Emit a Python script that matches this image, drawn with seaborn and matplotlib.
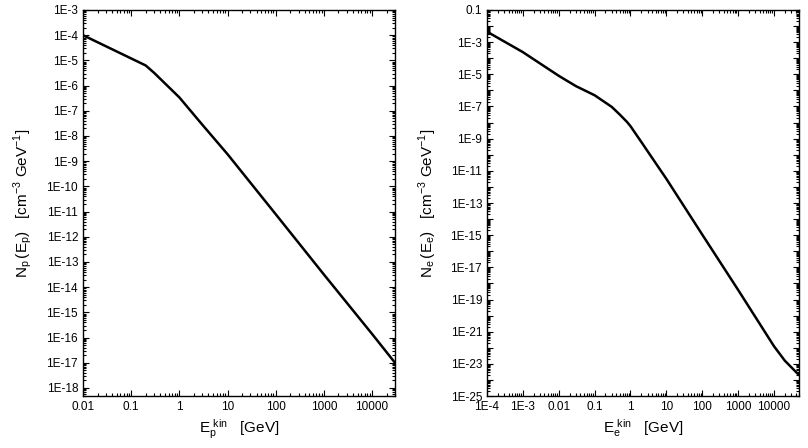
import numpy as np
import pandas as pd
import seaborn as sns
import matplotlib
matplotlib.use("Agg")
import matplotlib.pyplot as plt
from matplotlib.ticker import FixedLocator, FuncFormatter, LogLocator, NullFormatter

# proton spectrum (kinetic energy in GeV, density in cm^-3 GeV^-1)
proton_energy = [0.01, 0.2, 0.3, 1, 3, 10, 100, 1000, 10000, 30000]
proton_density = [1.0e-4, 6.3e-6, 3.2e-6, 3.4e-7, 2.8e-8, 1.9e-9, 7.9e-12, 3.2e-14, 1.4e-16, 1.0e-17]

# electron spectrum
electron_energy = [1e-4, 1e-3, 1e-2, 0.03, 0.1, 0.3, 0.5, 0.8, 1, 2, 3, 10, 100, 1000, 1e4, 2e4, 5e4]
electron_density = [4.5e-3, 2.4e-4, 8.1e-6, 1.86e-6, 5.0e-7, 9.5e-8, 3.2e-8, 1.1e-8, 6.0e-9,
                    6.3e-10, 1.66e-10, 3.2e-12, 1.1e-15, 4.0e-19, 1.26e-22, 1.6e-23, 2.0e-24]

proton_xticks = [0.01, 0.1, 1, 10, 100, 1000, 10000]
proton_xlabels = ["0.01", "0.1", "1", "10", "100", "1000", "10000"]
electron_xticks = [1e-4, 1e-3, 0.01, 0.1, 1, 10, 100, 1000, 10000]
electron_xlabels = ["1E-4", "1E-3", "0.01", "0.1", "1", "10", "100", "1000", "10000"]

sns.set_style("ticks")
plt.rcParams['font.family'] = ['Liberation Sans', 'DejaVu Sans']
plt.rcParams['mathtext.fontset'] = 'custom'
plt.rcParams['mathtext.rm'] = 'Liberation Sans'
for key in ('text.color', 'axes.labelcolor', 'xtick.color', 'ytick.color', 'axes.edgecolor'):
    plt.rcParams[key] = 'black'

fig = plt.figure(figsize=(8.08, 4.48), dpi=100)
ax1 = fig.add_axes([83 / 808, 52 / 448, 312 / 808, 386 / 448])
ax2 = fig.add_axes([487 / 808, 52 / 448, 312 / 808, 386 / 448])

df_p = pd.DataFrame({"E": proton_energy, "N": proton_density})
df_e = pd.DataFrame({"E": electron_energy, "N": electron_density})

sns.lineplot(data=df_p, x="E", y="N", ax=ax1, color="black", lw=1.8)
sns.lineplot(data=df_e, x="E", y="N", ax=ax2, color="black", lw=1.8)


def exp_label(v, pos, skip_even=False):
    e = int(round(np.log10(v)))
    if skip_even and e % 2 == 0:
        return ""
    if e == -1:
        return "0.1"
    return "1E%d" % e


for ax in (ax1, ax2):
    ax.set_xscale("log")
    ax.set_yscale("log")
    ax.tick_params(which="both", direction="in", top=True, right=True, labelsize=8.5, width=0.8,
                   color="black", labelcolor="black")
    ax.tick_params(which="major", length=4.5)
    ax.tick_params(which="minor", length=2.5)
    for s in ax.spines.values():
        s.set_linewidth(1.0)
        s.set_color("black")
    ax.xaxis.set_minor_locator(LogLocator(base=10, subs=np.arange(2, 10), numticks=30))
    ax.yaxis.set_minor_locator(LogLocator(base=10, subs=np.arange(2, 10), numticks=60))
    ax.xaxis.set_minor_formatter(NullFormatter())
    ax.yaxis.set_minor_formatter(NullFormatter())

# left panel
ax1.set_xlim(0.01, 3e4)
ax1.set_ylim(4.8e-19, 1e-3)
ax1.xaxis.set_major_locator(FixedLocator(proton_xticks))
ax1.set_xticklabels(proton_xlabels)
ax1.yaxis.set_major_locator(FixedLocator([10.0 ** k for k in range(-18, -2)]))
ax1.yaxis.set_major_formatter(FuncFormatter(lambda v, p: exp_label(v, p)))
ax1.set_xlabel(r"$\mathregular{E_p^{\ kin}}$   [GeV]", fontsize=11, labelpad=3)
ax1.set_ylabel(r"$\mathregular{N_p\,(E_p)}$   [cm$^{\mathregular{-3}}$ GeV$^{\mathregular{-1}}$]",
               fontsize=11, labelpad=8)

# right panel
ax2.set_xlim(1e-4, 5e4)
ax2.set_ylim(1e-25, 0.1)
ax2.xaxis.set_major_locator(FixedLocator(electron_xticks))
ax2.set_xticklabels(electron_xlabels)
ax2.yaxis.set_major_locator(FixedLocator([10.0 ** k for k in range(-25, 0)]))
ax2.yaxis.set_major_formatter(FuncFormatter(lambda v, p: exp_label(v, p, skip_even=True)))
ax2.set_xlabel(r"$\mathregular{E_e^{\ kin}}$   [GeV]", fontsize=11, labelpad=3)
ax2.set_ylabel(r"$\mathregular{N_e\,(E_e)}$   [cm$^{\mathregular{-3}}$ GeV$^{\mathregular{-1}}$]",
               fontsize=11, labelpad=8)

fig.savefig("out.png", dpi=100)
